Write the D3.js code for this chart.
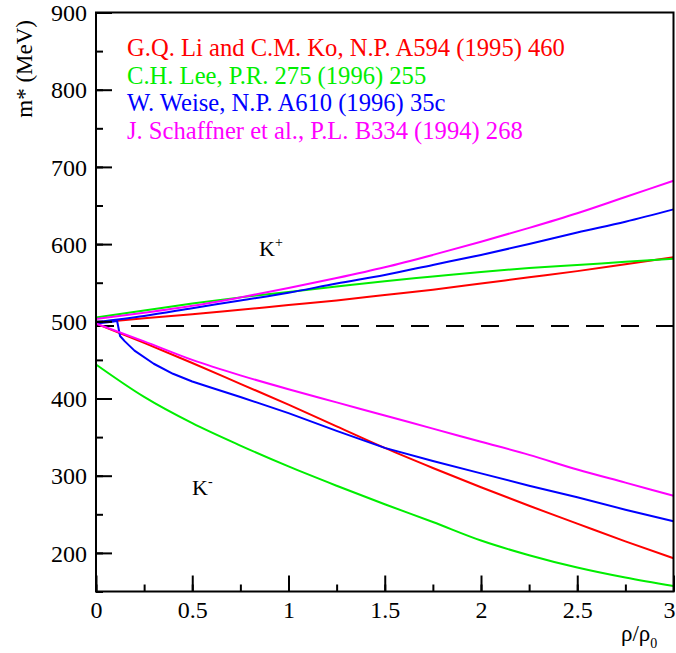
<!DOCTYPE html>
<html>
<head>
<meta charset="utf-8">
<script src="https://cdn.jsdelivr.net/npm/d3@7"></script>
<style>
  html, body { margin: 0; padding: 0; background: #fff; }
  svg { display: block; }
  text { font-family: "Liberation Serif", "Times New Roman", "DejaVu Serif", serif; }
</style>
</head>
<body>
<svg id="chart" width="676" height="653"></svg>
<script>
// ---- data ----
const xTicks = [0, 0.5, 1, 1.5, 2, 2.5, 3];
const xTickLabels = ["0", "0.5", "1", "1.5", "2", "2.5", "3"];
const yTicks = [200, 300, 400, 500, 600, 700, 800, 900];
const yTickLabels = ["200", "300", "400", "500", "600", "700", "800", "900"];
const freeMass = 494;

const legendLabels = [
  "G.Q. Li and C.M. Ko, N.P. A594 (1995) 460",
  "C.H. Lee, P.R. 275 (1996) 255",
  "W. Weise, N.P. A610 (1996) 35c",
  "J. Schaffner et al., P.L. B334 (1994) 268"
];
const seriesColors = ["#ff0000", "#00ee00", "#0000ff", "#ff00ff"];

const rhoGrid = [0, 0.25, 0.5, 0.75, 1, 1.25, 1.5, 1.75, 2, 2.25, 2.5, 2.75, 3];

// K+ masses
const liKoKplus      = [498, 504, 509, 515, 521, 527, 534, 541, 549, 557, 565, 574, 583];
const leeKplus       = [505, 514, 523, 531, 538, 545, 552, 558, 564, 569, 573, 577, 581];
const weiseKplus     = [499, 507, 517, 527, 537, 549, 560, 573, 586, 600, 615, 629, 645];
const schaffnerKplus = [503, 511, 520, 531, 543, 556, 570, 586, 603, 621, 640, 661, 682];

// K- masses
const liKoKminus      = [497, 472, 446, 419, 392, 364, 336, 310, 285, 261, 238, 215, 193];
const leeKminus       = [444, 402, 368, 339, 312, 287, 263, 240, 216, 197, 181, 168, 157];
const schaffnerKminus = [497, 474, 450, 430, 412, 395, 378, 361, 344, 327, 308, 291, 274];
// Weise K- has its own (finer) grid near rho = 0
const weiseRho    = [0, 0.05, 0.1, 0.11, 0.125, 0.15, 0.2, 0.3, 0.4, 0.5, 0.6, 0.75, 1, 1.25, 1.5, 1.75, 2, 2.25, 2.5, 2.75, 3];
const weiseKminus = [497, 498.5, 500, 500, 481, 474, 462, 445, 432, 422, 414, 402, 381, 358, 336, 319, 303, 287, 272, 256, 241];

// ---- drawing ----
const FONT = "Liberation Serif, Times New Roman, DejaVu Serif, serif";
const svg = d3.select("#chart");
const x = d3.scaleLinear().domain([0, 3]).range([96, 673.5]);
const y = d3.scaleLinear().domain([150, 900]).range([591.5, 12.5]);

const zip = (xs, ys) => xs.map((v, i) => [v, ys[i]]);
const smooth = d3.line().x(d => x(d[0])).y(d => y(d[1])).curve(d3.curveMonotoneX);
const straight = d3.line().x(d => x(d[0])).y(d => y(d[1]));

const curves = [
  { pts: zip(rhoGrid, liKoKplus), c: 0, gen: smooth },
  { pts: zip(rhoGrid, leeKplus), c: 1, gen: smooth },
  { pts: zip(rhoGrid, weiseKplus), c: 2, gen: smooth },
  { pts: zip(rhoGrid, schaffnerKplus), c: 3, gen: smooth },
  { pts: zip(rhoGrid, liKoKminus), c: 0, gen: smooth },
  { pts: zip(rhoGrid, leeKminus), c: 1, gen: smooth },
  { pts: zip(weiseRho, weiseKminus), c: 2, gen: straight },
  { pts: zip(rhoGrid, schaffnerKminus), c: 3, gen: smooth }
];

// dashed free-mass line
svg.append("line")
  .attr("x1", x(0)).attr("x2", x(3))
  .attr("y1", y(freeMass)).attr("y2", y(freeMass))
  .attr("stroke", "#000").attr("stroke-width", 2)
  .attr("stroke-dasharray", "18,17");

svg.append("g").selectAll("path").data(curves).join("path")
  .attr("d", d => d.gen(d.pts))
  .attr("fill", "none")
  .attr("stroke", d => seriesColors[d.c])
  .attr("stroke-width", 2)
  .attr("stroke-linejoin", "round");

// axes
const xMinor = d3.range(0, 3.001, 0.25);
const yMinor = d3.range(150, 900.1, 50);

const gx = svg.append("g").attr("transform", `translate(0,${y.range()[0]})`);
gx.call(d3.axisBottom(x).tickValues(xMinor).tickFormat("").tickSizeInner(-7).tickSizeOuter(0));
gx.call(g => g.select(".domain").remove());
const gx2 = svg.append("g").attr("transform", `translate(0,${y.range()[0]})`);
gx2.call(d3.axisBottom(x).tickValues(xTicks).tickFormat((d, i) => xTickLabels[i]).tickSizeInner(-16).tickSizeOuter(0).tickPadding(0));
gx2.call(g => g.select(".domain").remove());
gx2.selectAll("text").attr("y", 0).attr("dy", 0).attr("transform", "translate(0,26)");
gx2.selectAll(".tick").filter(d => d === 3).select("text").attr("text-anchor", "end").attr("x", 1.5);

const gy = svg.append("g").attr("transform", `translate(${x.range()[0]},0)`);
gy.call(d3.axisLeft(y).tickValues(yMinor).tickFormat("").tickSizeInner(-7).tickSizeOuter(0));
gy.call(g => g.select(".domain").remove());
const gy2 = svg.append("g").attr("transform", `translate(${x.range()[0]},0)`);
gy2.call(d3.axisLeft(y).tickValues(yTicks).tickFormat((d, i) => yTickLabels[i]).tickSizeInner(-16).tickSizeOuter(0).tickPadding(0));
gy2.call(g => g.select(".domain").remove());
gy2.selectAll("text").attr("x", -9).attr("dy", "0.34em");

[gx, gx2, gy, gy2].forEach(g => g.attr("font-family", FONT).attr("font-size", 24));
svg.selectAll(".tick line").attr("stroke", "#000").attr("stroke-width", 2);
svg.selectAll(".tick text").attr("fill", "#000").attr("font-family", FONT).attr("font-size", 24);

// frame
svg.append("rect")
  .attr("x", x(0)).attr("y", y(900))
  .attr("width", x(3) - x(0)).attr("height", y(150) - y(900))
  .attr("fill", "none").attr("stroke", "#000").attr("stroke-width", 2);

// legend
svg.append("g").selectAll("text").data(legendLabels).join("text")
  .attr("x", 127).attr("y", (d, i) => 56 + i * 27.7)
  .attr("fill", (d, i) => seriesColors[i])
  .attr("font-family", FONT).attr("font-size", 24.6)
  .text(d => d);

// axis titles
svg.append("text")
  .attr("transform", "translate(32,20) rotate(-90)")
  .attr("text-anchor", "end")
  .attr("font-family", FONT).attr("font-size", 23)
  .text("m* (MeV)");

const xt = svg.append("text").attr("x", 621).attr("y", 641)
  .attr("font-family", FONT).attr("font-size", 23);
xt.append("tspan").text("ρ/ρ");
xt.append("tspan").attr("dy", 7).attr("font-size", 14).text("0");

// K labels
const kp = svg.append("text").attr("x", 259).attr("y", 256).attr("font-family", FONT).attr("font-size", 22);
kp.append("tspan").text("K");
kp.append("tspan").attr("dy", -9).attr("font-size", 14).text("+");
const km = svg.append("text").attr("x", 192).attr("y", 495).attr("font-family", FONT).attr("font-size", 22);
km.append("tspan").text("K");
km.append("tspan").attr("dy", -9).attr("font-size", 14).text("-");
</script>
</body>
</html>
